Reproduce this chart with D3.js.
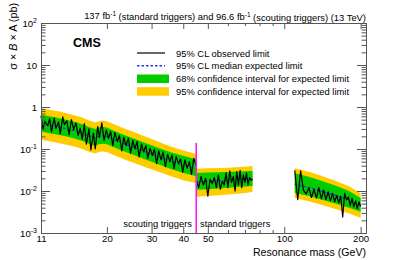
<!DOCTYPE html>
<meta charset="utf-8">
<script src="https://d3js.org/d3.v7.min.js"></script>
<style>
  body { margin: 0; background: #fff; }
  text { font-family: "Liberation Sans", Arial, Helvetica, sans-serif; }
</style>
<div id="my_dataviz"></div>
<script>

// ---- expected limits (pb): coarse mass points, one table per region
var expScoutMass = [11, 12, 13, 14, 15, 16, 17, 18, 18.6, 19.2, 20, 21, 22, 24, 26, 28, 30, 33, 36, 40, 45];
var expScoutLo95 = [0.165, 0.15, 0.138, 0.125, 0.113, 0.10, 0.086, 0.078, 0.085, 0.087, 0.085, 0.074, 0.066, 0.053, 0.045, 0.038, 0.033, 0.027, 0.022, 0.018, 0.0152];
var expScoutLo68 = [0.26, 0.235, 0.215, 0.195, 0.175, 0.155, 0.133, 0.12, 0.13, 0.134, 0.13, 0.114, 0.101, 0.082, 0.069, 0.058, 0.05, 0.04, 0.033, 0.027, 0.0225];
var expScoutMed  = [0.40, 0.36, 0.33, 0.30, 0.27, 0.24, 0.205, 0.185, 0.20, 0.205, 0.20, 0.175, 0.155, 0.125, 0.105, 0.088, 0.075, 0.060, 0.050, 0.041, 0.034];
var expScoutHi68 = [0.65, 0.59, 0.54, 0.49, 0.44, 0.39, 0.335, 0.30, 0.325, 0.335, 0.325, 0.285, 0.252, 0.204, 0.171, 0.143, 0.122, 0.099, 0.083, 0.069, 0.057];
var expScoutHi95 = [0.93, 0.85, 0.78, 0.70, 0.63, 0.56, 0.48, 0.43, 0.46, 0.475, 0.46, 0.405, 0.36, 0.29, 0.243, 0.203, 0.172, 0.137, 0.113, 0.092, 0.076];

var expLowMass = [45, 50, 55, 60, 65, 70, 75];
var expLowLo95 = [0.0073, 0.0076, 0.0079, 0.0082, 0.0086, 0.009, 0.0095];
var expLowLo68 = [0.0107, 0.011, 0.0115, 0.012, 0.0124, 0.0128, 0.0132];
var expLowMed  = [0.0165, 0.017, 0.0175, 0.018, 0.0185, 0.019, 0.0195];
var expLowHi68 = [0.027, 0.0275, 0.028, 0.0285, 0.029, 0.0295, 0.030];
var expLowHi95 = [0.034, 0.035, 0.0355, 0.036, 0.037, 0.038, 0.0394];

var expHighMass = [110, 125, 140, 160, 180, 200];
var expHighLo95 = [0.0068, 0.0057, 0.0047, 0.0037, 0.0029, 0.0023];
var expHighLo68 = [0.0090, 0.0076, 0.0063, 0.0050, 0.0040, 0.0032];
var expHighMed  = [0.0145, 0.0121, 0.0100, 0.0079, 0.0062, 0.0045];
var expHighHi68 = [0.0265, 0.0218, 0.0176, 0.0133, 0.0100, 0.0068];
var expHighHi95 = [0.0350, 0.0287, 0.0230, 0.0173, 0.0130, 0.0089];

// ---- observed limits (pb)
var obsScoutMass = [11, 11.2, 11.4, 11.7, 11.9, 12.1, 12.4, 12.6, 12.9, 13.1, 13.4, 13.6, 13.9, 14.2, 14.5, 14.8,
  15.1, 15.4, 15.7, 16, 16.3, 16.6, 17, 17.3, 17.7, 18, 18.4, 18.7, 19.1, 19.5, 19.9, 20.3, 20.7, 21.1, 21.5,
  22, 22.4, 22.9, 23.3, 23.8, 24.3, 24.8, 25.3, 25.8, 26.3, 26.8, 27.4, 27.9, 28.5, 29, 29.6, 30.2, 30.8, 31.4,
  32, 32.7, 33.3, 34, 34.7, 35.4, 36.1, 36.8, 37.5, 38.3, 39, 39.8, 40.6, 41.4, 42.3, 43.1, 44, 45];
var obsScout = [0.62, 0.30, 0.45, 0.36, 0.52, 0.26, 0.55, 0.31, 0.44, 0.23, 0.58, 0.38, 0.47, 0.22, 0.50, 0.29,
  0.42, 0.21, 0.31, 0.17, 0.40, 0.13, 0.30, 0.095, 0.24, 0.10, 0.34, 0.19, 0.42, 0.16, 0.28, 0.18, 0.26, 0.12, 0.25,
  0.15, 0.21, 0.09, 0.19, 0.12, 0.18, 0.08, 0.16, 0.10, 0.15, 0.065, 0.13, 0.085, 0.12, 0.06, 0.105, 0.07, 0.10, 0.045,
  0.09, 0.055, 0.085, 0.038, 0.075, 0.05, 0.072, 0.034, 0.066, 0.045, 0.058, 0.028, 0.055, 0.035, 0.05, 0.025, 0.06, 0.04];

var obsLowMass = [45, 46, 47, 48, 49, 50, 51, 52, 53, 54, 55, 56, 57, 58, 59, 60, 61, 62, 63, 64, 65, 66, 67, 68, 69, 70, 71, 72, 73, 74, 75];
var obsLow = [0.018, 0.012, 0.022, 0.014, 0.020, 0.0075, 0.019, 0.015, 0.021, 0.012, 0.024, 0.011, 0.017, 0.014, 0.027, 0.012,
  0.030, 0.016, 0.022, 0.010, 0.029, 0.014, 0.031, 0.012, 0.024, 0.016, 0.027, 0.014, 0.021, 0.018, 0.019];

var obsHighMass = [110, 113, 116, 119, 122, 125, 128, 131, 134, 137, 140, 143, 146, 149, 152, 155, 158, 161, 164, 167, 170, 173, 176, 179, 182, 185, 188, 191, 194, 197, 200];
var obsHigh = [0.031, 0.0062, 0.030, 0.0105, 0.0085, 0.012, 0.007, 0.011, 0.0068, 0.012, 0.0065, 0.0105, 0.0062, 0.0095, 0.0058, 0.0088,
  0.0055, 0.0078, 0.0052, 0.0075, 0.0024, 0.0088, 0.0062, 0.0072, 0.0045, 0.0068, 0.0042, 0.0058, 0.0038, 0.0055, 0.0043];

// trigger boundary
var splitMass = 45, splitTop = 0.14;

// axis ticks
var xMajor = [11, 20, 30, 40, 50, 100, 200];
var xMinor = [60, 70, 80, 90];
var yMajor = [1e-3, 1e-2, 1e-1, 1, 10, 100];

// set the dimensions and margins of the graph
var margin = {top: 23, right: 41, bottom: 27, left: 41},
    width = 407 - margin.left - margin.right,
    height = 260 - margin.top - margin.bottom;

var svgRoot = d3.select("#my_dataviz")
  .append("svg")
    .attr("width", 407)
    .attr("height", 260);
var svg = svgRoot.append("g")
    .attr("transform", "translate(" + margin.left + "," + margin.top + ")");

var x = d3.scaleLog().domain([11, 210]).range([0, width]);
var y = d3.scaleLog().domain([1e-3, 1e2]).range([height, 0]);

function rows(mass, lo95, lo68, med, hi68, hi95) {
  return mass.map(function(m, i) {
    return {m: m, lo95: lo95[i], lo68: lo68[i], med: med[i], hi68: hi68[i], hi95: hi95[i]};
  });
}
var regions = [
  rows(expScoutMass, expScoutLo95, expScoutLo68, expScoutMed, expScoutHi68, expScoutHi95),
  rows(expLowMass, expLowLo95, expLowLo68, expLowMed, expLowHi68, expLowHi95),
  rows(expHighMass, expHighLo95, expHighLo68, expHighMed, expHighHi68, expHighHi95)
];
var observed = [
  obsScoutMass.map(function(m, i) { return [m, obsScout[i]]; }),
  obsLowMass.map(function(m, i) { return [m, obsLow[i]]; }),
  obsHighMass.map(function(m, i) { return [m, obsHigh[i]]; })
];

var band95 = d3.area().x(function(d) { return x(d.m); })
  .y0(function(d) { return y(d.lo95); }).y1(function(d) { return y(d.hi95); });
var band68 = d3.area().x(function(d) { return x(d.m); })
  .y0(function(d) { return y(d.lo68); }).y1(function(d) { return y(d.hi68); });
var medLine = d3.line().x(function(d) { return x(d.m); }).y(function(d) { return y(d.med); });
var obsLine = d3.line().x(function(d) { return x(d[0]); }).y(function(d) { return y(d[1]); });

var blue = "#2233ff";

svg.selectAll(".b95").data(regions).enter().append("path")
  .attr("d", band95).style("fill", "#ffcc00");
svg.selectAll(".b68").data(regions).enter().append("path")
  .attr("d", band68).style("fill", "#00cc00");
svg.selectAll(".med").data(regions).enter().append("path")
  .attr("d", medLine).style("fill", "none")
  .style("stroke", blue).style("stroke-width", 1.3).style("stroke-dasharray", "2.5,2");
svg.selectAll(".obs").data(observed).enter().append("path")
  .attr("d", obsLine).style("fill", "none")
  .style("stroke", "#000").style("stroke-width", 1.2).style("stroke-linejoin", "round");

// boundary between trigger streams
svg.append("line")
  .attr("x1", x(splitMass)).attr("x2", x(splitMass))
  .attr("y1", y(splitTop)).attr("y2", height)
  .style("stroke", "#ee22ee").style("stroke-width", 1.6);

// axes (ROOT style: ticks inside, mirrored)
var axisColor = "#555";
function styleAxis(g) {
  g.selectAll("path, line").style("stroke", axisColor);
  g.selectAll("text").style("fill", "#000").style("font-size", "9.6px")
    .style("font-family", '"Liberation Sans", Arial, sans-serif');
}
var yMinor = [];
yMajor.slice(0, -1).forEach(function(d) { for (var k = 2; k < 10; k++) yMinor.push(d * k); });

svg.append("g").attr("transform", "translate(0," + height + ")")
  .call(d3.axisBottom(x).tickValues(xMajor).tickFormat(d3.format("d")).tickSizeInner(-6).tickSizeOuter(0).tickPadding(2.5))
  .call(styleAxis);
svg.append("g").attr("transform", "translate(0," + height + ")")
  .call(d3.axisBottom(x).tickValues(xMinor).tickFormat("").tickSizeInner(-3).tickSizeOuter(0))
  .call(styleAxis);
svg.append("g")
  .call(d3.axisTop(x).tickValues(xMajor).tickFormat("").tickSizeInner(-6).tickSizeOuter(0))
  .call(styleAxis);
svg.append("g")
  .call(d3.axisTop(x).tickValues(xMinor).tickFormat("").tickSizeInner(-3).tickSizeOuter(0))
  .call(styleAxis);

var gLeft = svg.append("g")
  .call(d3.axisLeft(y).tickValues(yMajor).tickSizeInner(-9).tickSizeOuter(0).tickPadding(4))
  .call(styleAxis);
gLeft.selectAll(".tick text").each(function(d) {
  var t = d3.select(this).text(""), e = Math.round(Math.log10(d));
  if (e === 0) t.text("1");
  else if (e === 1) t.text("10");
  else {
    t.append("tspan").text("10");
    t.append("tspan").attr("dy", "-0.45em").style("font-size", "7px").text(e);
  }
});
svg.append("g")
  .call(d3.axisLeft(y).tickValues(yMinor).tickFormat("").tickSizeInner(-4.5).tickSizeOuter(0))
  .call(styleAxis);
svg.append("g").attr("transform", "translate(" + width + ",0)")
  .call(d3.axisRight(y).tickValues(yMajor).tickFormat("").tickSizeInner(-9).tickSizeOuter(0))
  .call(styleAxis);
svg.append("g").attr("transform", "translate(" + width + ",0)")
  .call(d3.axisRight(y).tickValues(yMinor).tickFormat("").tickSizeInner(-4.5).tickSizeOuter(0))
  .call(styleAxis);

// axis titles
svgRoot.append("text")
  .attr("x", 366).attr("y", 256).attr("text-anchor", "end")
  .style("font-size", "10.6px").text("Resonance mass (GeV)");
var yt = svgRoot.append("text")
  .attr("transform", "translate(17,3) rotate(-90)").attr("text-anchor", "end")
  .style("font-size", "10.8px");
yt.append("tspan").text("\u03c3 \u00d7 ");
yt.append("tspan").style("font-style", "italic").text("B");
yt.append("tspan").text(" \u00d7 A (pb)");

// lumi label
var lumi = svgRoot.append("text")
  .attr("x", 366).attr("y", 18.5).attr("text-anchor", "end")
  .style("font-size", "9.4px");
lumi.append("tspan").text("137 fb");
lumi.append("tspan").attr("dy", "-0.4em").style("font-size", "6.5px").text("-1");
lumi.append("tspan").attr("dy", "0.4em").text(" (standard triggers) and 96.6 fb");
lumi.append("tspan").attr("dy", "-0.4em").style("font-size", "6.5px").text("-1");
lumi.append("tspan").attr("dy", "0.4em").text(" (scouting triggers) (13 TeV)");

svgRoot.append("text")
  .attr("x", 73).attr("y", 46.5)
  .style("font-size", "12.5px").style("font-weight", "bold").text("CMS");

// region labels
svgRoot.append("text")
  .attr("x", 192).attr("y", 226.5).attr("text-anchor", "end")
  .style("font-size", "9.4px").text("scouting triggers");
svgRoot.append("text")
  .attr("x", 200).attr("y", 226.5)
  .style("font-size", "9.4px").text("standard triggers");

// legend
var legendItems = ["95% CL observed limit", "95% CL median expected limit",
  "68% confidence interval for expected limit", "95% confidence interval for expected limit"];
var legend = svgRoot.append("g").attr("transform", "translate(137,53)");
legend.selectAll("text").data(legendItems).enter().append("text")
  .attr("x", 39).attr("y", function(d, i) { return i * 12.7 + 3.5; })
  .style("font-size", "9.4px").text(function(d) { return d; });
legend.append("line").attr("x1", 0).attr("x2", 28).attr("y1", 0).attr("y2", 0)
  .style("stroke", "#000").style("stroke-width", 1.2);
legend.append("line").attr("x1", 0).attr("x2", 28).attr("y1", 12.7).attr("y2", 12.7)
  .style("stroke", blue).style("stroke-width", 1.5).style("stroke-dasharray", "2.5,2");
legend.append("rect").attr("x", 0).attr("y", 21.5).attr("width", 32).attr("height", 8.5)
  .style("fill", "#00cc00");
legend.append("rect").attr("x", 0).attr("y", 34.2).attr("width", 32).attr("height", 8.5)
  .style("fill", "#ffcc00");

</script>
